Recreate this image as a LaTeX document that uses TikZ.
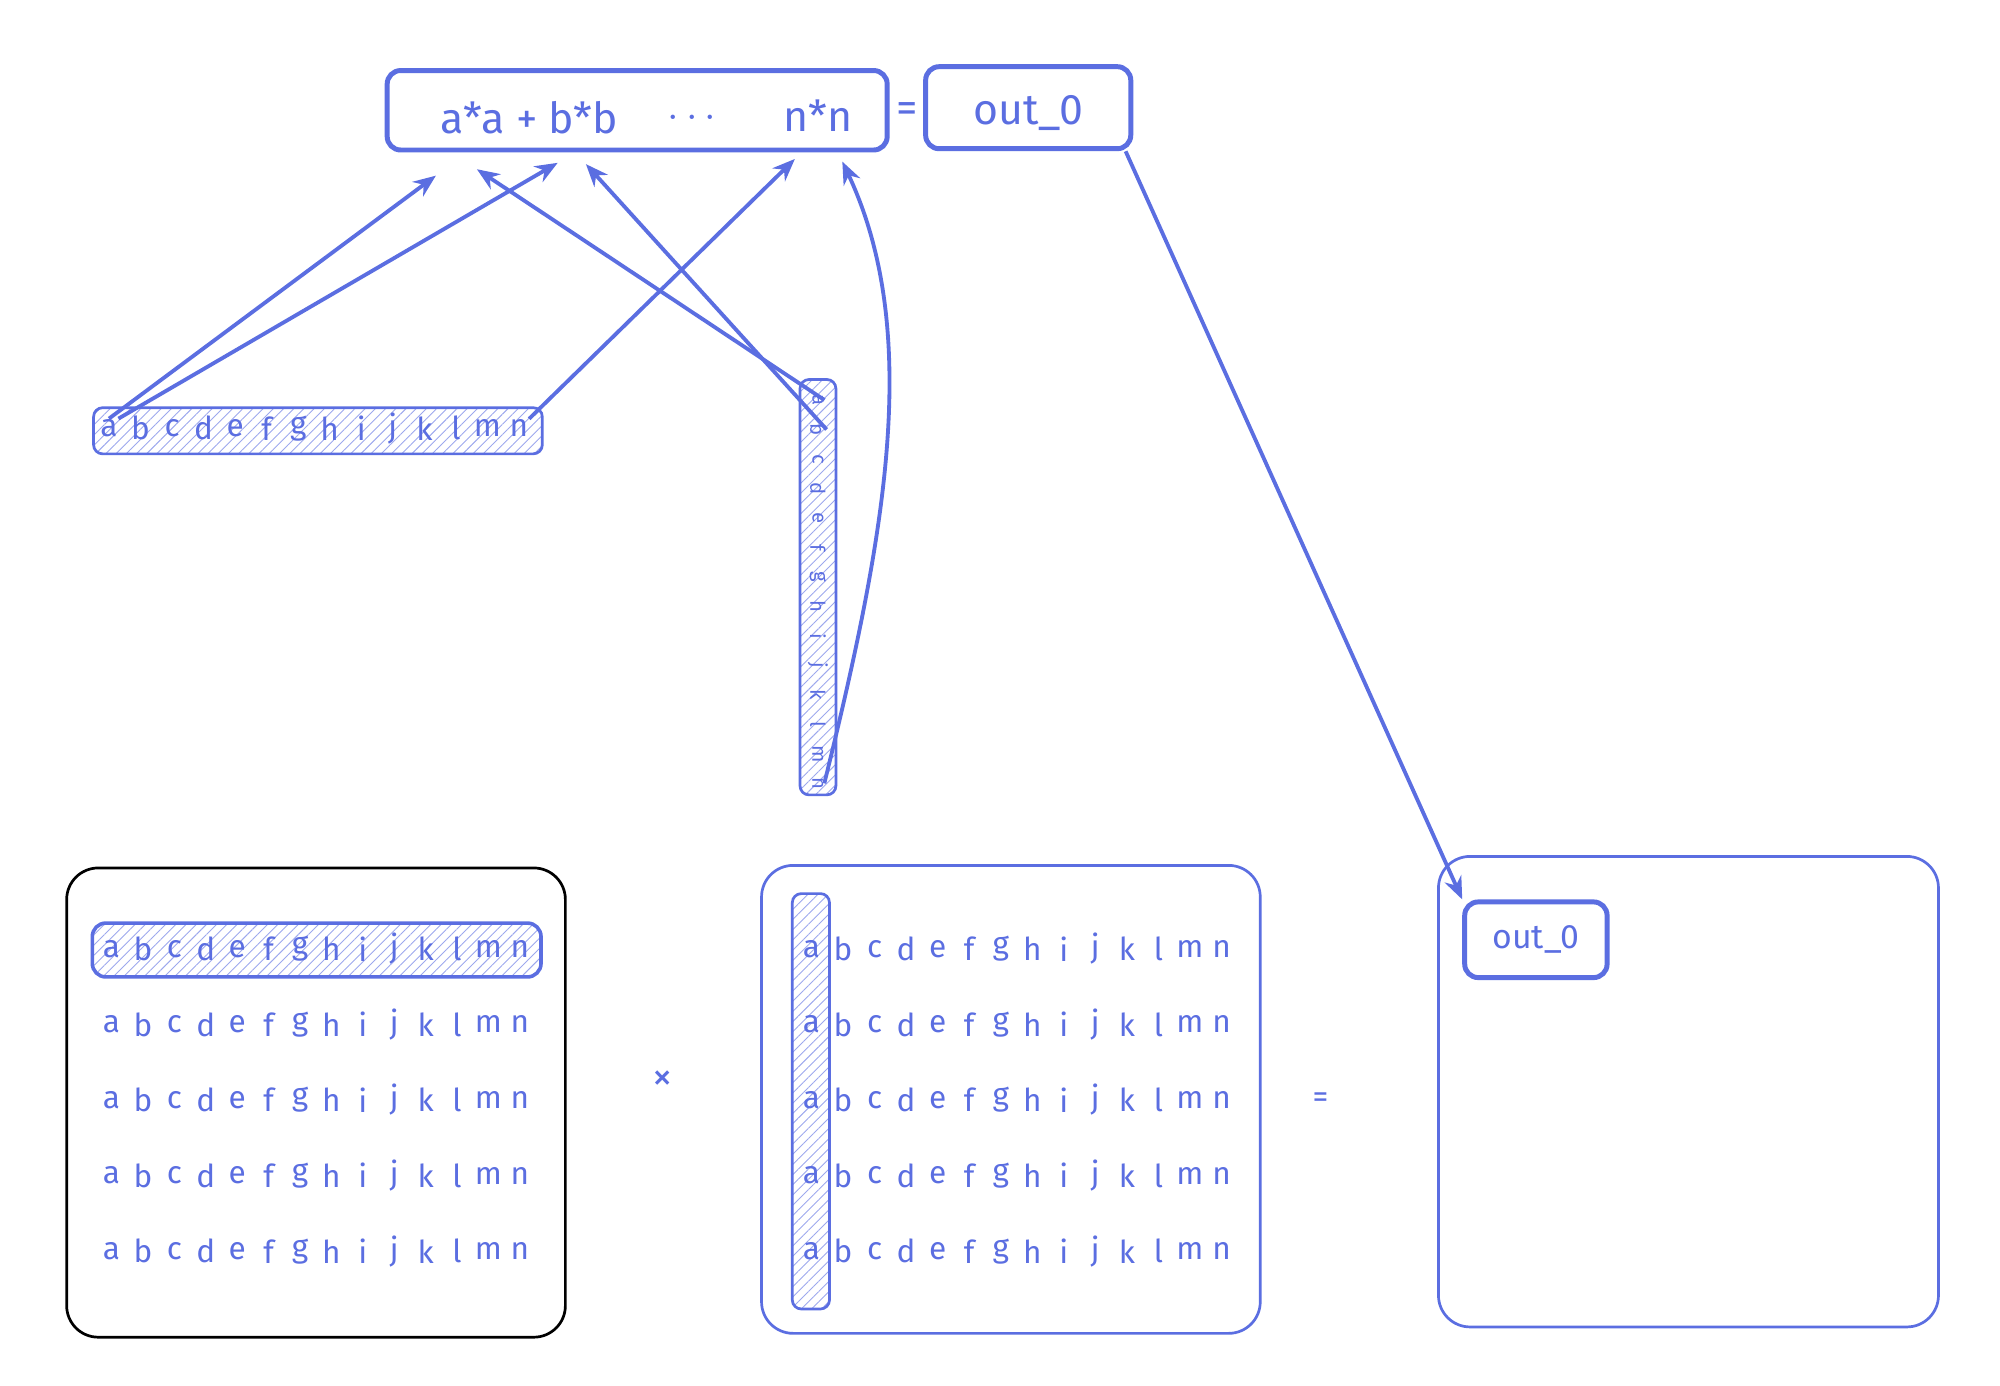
\documentclass[tikz,border=0pt]{standalone}
\usepackage{fontspec}
\setmainfont{Fira Sans}
\usetikzlibrary{patterns.meta,arrows.meta}
\definecolor{bl}{HTML}{5B6EE1}
\begin{document}
\begin{tikzpicture}[x=0.01cm,y=-0.01cm,
  box/.style={draw=bl,line width=0.6pt,rounded corners=7pt},
  thick box/.style={draw=bl,line width=1.1pt,rounded corners=3pt},
  hatch/.style={draw=bl,line width=0.6pt,rounded corners=2pt,pattern={Lines[angle=45,distance=1.6pt,line width=0.2pt]},pattern color=bl!60},
  lt/.style={text=bl,font=\fontsize{7}{7}\selectfont,inner sep=0pt},
  big/.style={text=bl,font=\fontsize{9.5}{9.5}\selectfont,inner sep=0pt},
  st/.style={text=bl,font=\fontsize{4.5}{4.5}\selectfont,inner sep=0pt,rotate=-90},
  ar/.style={draw=bl,line width=0.85pt,-{Stealth[length=5pt,width=4pt,open]}}]
\useasboundingbox (0,0) rectangle (1560,1081);
% top formula
\draw[thick box] (302,55) rectangle (692,117);
\node[big] (t1) at (413,92) {a*a + b*b};
\node[big,font=\bfseries\fontsize{9.5}{9.5}\selectfont] (t2) at (540,92) {$\cdots$};
\node[big] (t3) at (638,90) {n*n};
\node[big] (eq) at (708,88) {=};
\draw[thick box] (722,52) rectangle (882,116);
\node[big] (o) at (802,88) {out\_0};
\coordinate (p1) at (340,137);\coordinate (p2) at (435,127);\coordinate (p3) at (620,124);
\coordinate (p4) at (372,132);\coordinate (p5) at (457,128);\coordinate (p6) at (657,126);
\coordinate (ob) at (878,118);
% horizontal vector
\draw[hatch] (73,318) rectangle (423,354);
\foreach \l [count=\i from 0] in {a,b,c,d,e,f,g,h,i,j,k,l,m,n}
  \node[lt] (h\i) at (85+24.6*\i,334) {\l};
% vertical vector
\draw[hatch] (624,296) rectangle (652,620);
\foreach \l [count=\i from 0] in {a,b,c,d,e,f,g,h,i,j,k,l,m,n}
  \node[st] (v\i) at (638,312+23*\i) {\l};
\draw[ar] (h0.north) -- (p1);
\draw[ar] (h0.north east) -- (p2);
\draw[ar] (h13.north east) -- (p3);
\draw[ar] (v0.north) -- (p4);
\draw[ar] (v1.north) -- (p5);
\draw[ar] (v13.north) .. controls (690,420) and (720,260) .. (p6);
% bottom left matrix
\draw[draw=black,line width=0.6pt,rounded corners=7pt] (52,677) rectangle (441,1043);
\draw[hatch,rounded corners=3pt,line width=0.8pt] (72,720) rectangle (422,762);
\foreach \y [count=\r] in {740,799,858,917,976}
 \foreach \l [count=\i from 0] in {a,b,c,d,e,f,g,h,i,j,k,l,m,n}
  \node[lt] (L\r-\i) at (87+24.5*\i,\y) {\l};
\node[lt,font=\fontsize{9}{9}\selectfont] (x) at (517,843) {×};
% middle matrix
\draw[box] (594,675) rectangle (983,1040);
\draw[hatch] (618,697) rectangle (647,1021);
\foreach \y [count=\r] in {740,799,858,917,976}
 \foreach \l [count=\i from 0] in {a,b,c,d,e,f,g,h,i,j,k,l,m,n}
  \node[lt] (M\r-\i) at (633+24.6*\i,\y) {\l};
\node[lt] (eq2) at (1030,858) {=};
% right matrix
\draw[box] (1122,668) rectangle (1512,1035);
\node[draw=bl,line width=1.1pt,rounded corners=3pt,minimum width=1.11cm,minimum height=0.59cm,text=bl,font=\fontsize{7.5}{7.5}\selectfont,inner sep=1pt] (oo) at (1198,733) {out\_0};
\draw[ar] (ob) -- (oo.north west);
\end{tikzpicture}
\end{document}
